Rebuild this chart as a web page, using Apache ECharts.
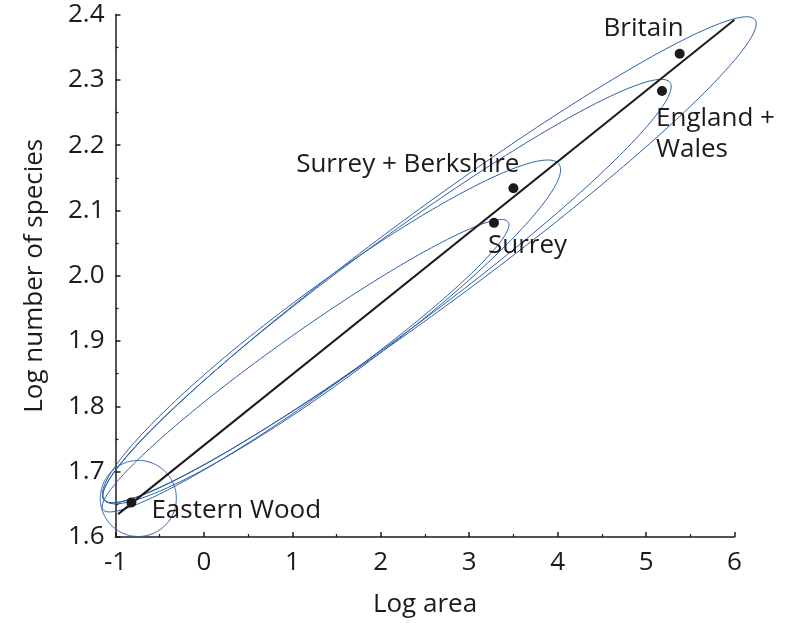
<!DOCTYPE html>
<html>
<head>
<meta charset="utf-8">
<script src="https://cdn.jsdelivr.net/npm/echarts@6/dist/echarts.min.js"></script>
<style>
  html, body { margin: 0; padding: 0; background: #ffffff; }
  #chart { width: 793px; height: 623px; }
</style>
</head>
<body>
<div id="chart"></div>
<script>
// Sampled sites: log area against log number of bird species
const siteNames = ['Eastern Wood', 'Surrey', 'Surrey + Berkshire', 'England +\nWales', 'Britain'];
const logArea = [-0.82, 3.28, 3.50, 5.18, 5.38];
const logSpecies = [1.653, 2.081, 2.134, 2.283, 2.340];

// Fitted species–area line (end points)
const fitX = [-0.97, 6.0];
const fitY = [1.635, 2.392];

// Confidence ellipses: the two ends of each major axis, plus minor/major axis ratio
const ellipseStartX = [-1.172, -1.141, -1.130, -1.130, -1.130];
const ellipseStartY = [1.659, 1.642, 1.657, 1.657, 1.657];
const ellipseEndX = [-0.312, 3.439, 4.015, 5.270, 6.232];
const ellipseEndY = [1.659, 2.0825, 2.171, 2.296, 2.392];
const ellipseRatio = [1.0, 0.129, 0.163, 0.127, 0.116];

// Axis ranges and ticks
const xMin = -1, xMax = 6, xStep = 1;
const yMin = 1.6, yMax = 2.4, yStep = 0.1;

const INK = '#1e1a1b';
const BLUE = '#2e5fa6';
const FONT = 'Open Sans';
const FONT_SIZE = 26;

// Where each site's name sits relative to its point
const labelPlacement = {
  'Eastern Wood':       { align: 'left',  offset: [20, 8] },
  'Surrey':             { align: 'left',  offset: [-6, 23] },
  'Surrey + Berkshire': { align: 'right', offset: [6, -24] },
  'England +\nWales':   { align: 'left',  offset: [-6, 43] },
  'Britain':            { align: 'right', offset: [4, -25] }
};

const siteData = siteNames.map((name, i) => ({
  name: name,
  value: [logArea[i], logSpecies[i]],
  label: {
    show: true,
    position: 'inside',
    align: labelPlacement[name].align,
    verticalAlign: 'middle',
    offset: labelPlacement[name].offset
  }
}));

const ellipseData = ellipseStartX.map((x0, i) =>
  [x0, ellipseStartY[i], ellipseEndX[i], ellipseEndY[i], ellipseRatio[i]]);

function renderEllipse(params, api) {
  const p1 = api.coord([api.value(0), api.value(1)]);
  const p2 = api.coord([api.value(2), api.value(3)]);
  const ratio = api.value(4);
  const cx = (p1[0] + p2[0]) / 2;
  const cy = (p1[1] + p2[1]) / 2;
  const dx = p2[0] - p1[0];
  const dy = p2[1] - p1[1];
  const a = Math.hypot(dx, dy) / 2;
  const b = a * ratio;
  const ux = dx / (2 * a), uy = dy / (2 * a);
  const pts = [];
  const n = 240;
  for (let k = 0; k <= n; k++) {
    const t = (k / n) * Math.PI * 2;
    const c = Math.cos(t) * a;
    const s = Math.sin(t) * b;
    pts.push([cx + ux * c - uy * s, cy + uy * c + ux * s]);
  }
  return {
    type: 'polyline',
    shape: { points: pts },
    style: { fill: null, stroke: BLUE, lineWidth: 1 },
    silent: true
  };
}

const chart = echarts.init(document.getElementById('chart'), null, { renderer: 'canvas' });

const axisCommon = {
  type: 'value',
  axisLine: { show: true, onZero: false, lineStyle: { color: INK, width: 1.5 } },
  axisTick: { show: true, inside: true, length: 5, lineStyle: { color: INK, width: 1.5 } },
  minorTick: { show: true, splitNumber: 2, length: 3, lineStyle: { color: INK, width: 1.2 } },
  splitLine: { show: false },
  minorSplitLine: { show: false },
  nameLocation: 'middle',
  nameTextStyle: { color: INK, fontSize: FONT_SIZE, fontFamily: FONT }
};

chart.setOption({
  animation: false,
  backgroundColor: '#ffffff',
  textStyle: { fontFamily: FONT },
  grid: { left: 115.5, right: 58.5, top: 14.5, bottom: 83.5, containLabel: false },
  xAxis: Object.assign({}, axisCommon, {
    min: xMin, max: xMax, interval: xStep,
    name: 'Log area',
    nameGap: 55,
    axisLabel: { color: INK, fontSize: FONT_SIZE, fontFamily: FONT, margin: 13 }
  }),
  yAxis: Object.assign({}, axisCommon, {
    min: yMin, max: yMax, interval: yStep,
    name: 'Log number of species',
    nameGap: 68,
    nameRotate: 90,
    axisLabel: {
      color: INK, fontSize: FONT_SIZE, fontFamily: FONT, margin: 11,
      padding: [6, 0, 0, 0],
      formatter: v => v.toFixed(1)
    }
  }),
  series: [
    {
      type: 'custom',
      name: 'ellipses',
      renderItem: renderEllipse,
      data: ellipseData,
      encode: { x: [0, 2], y: [1, 3] },
      clip: false,
      silent: true,
      z: 2
    },
    {
      type: 'line',
      name: 'fit',
      data: fitX.map((x, i) => [x, fitY[i]]),
      symbol: 'none',
      lineStyle: { color: INK, width: 2 },
      silent: true,
      z: 3
    },
    {
      type: 'scatter',
      name: 'sites',
      data: siteData,
      symbol: 'circle',
      symbolSize: 10,
      itemStyle: { color: INK, opacity: 1 },
      label: {
        formatter: '{b}',
        color: INK,
        fontSize: FONT_SIZE,
        fontFamily: FONT,
        lineHeight: 31
      },
      z: 4
    }
  ]
});
</script>
</body>
</html>
